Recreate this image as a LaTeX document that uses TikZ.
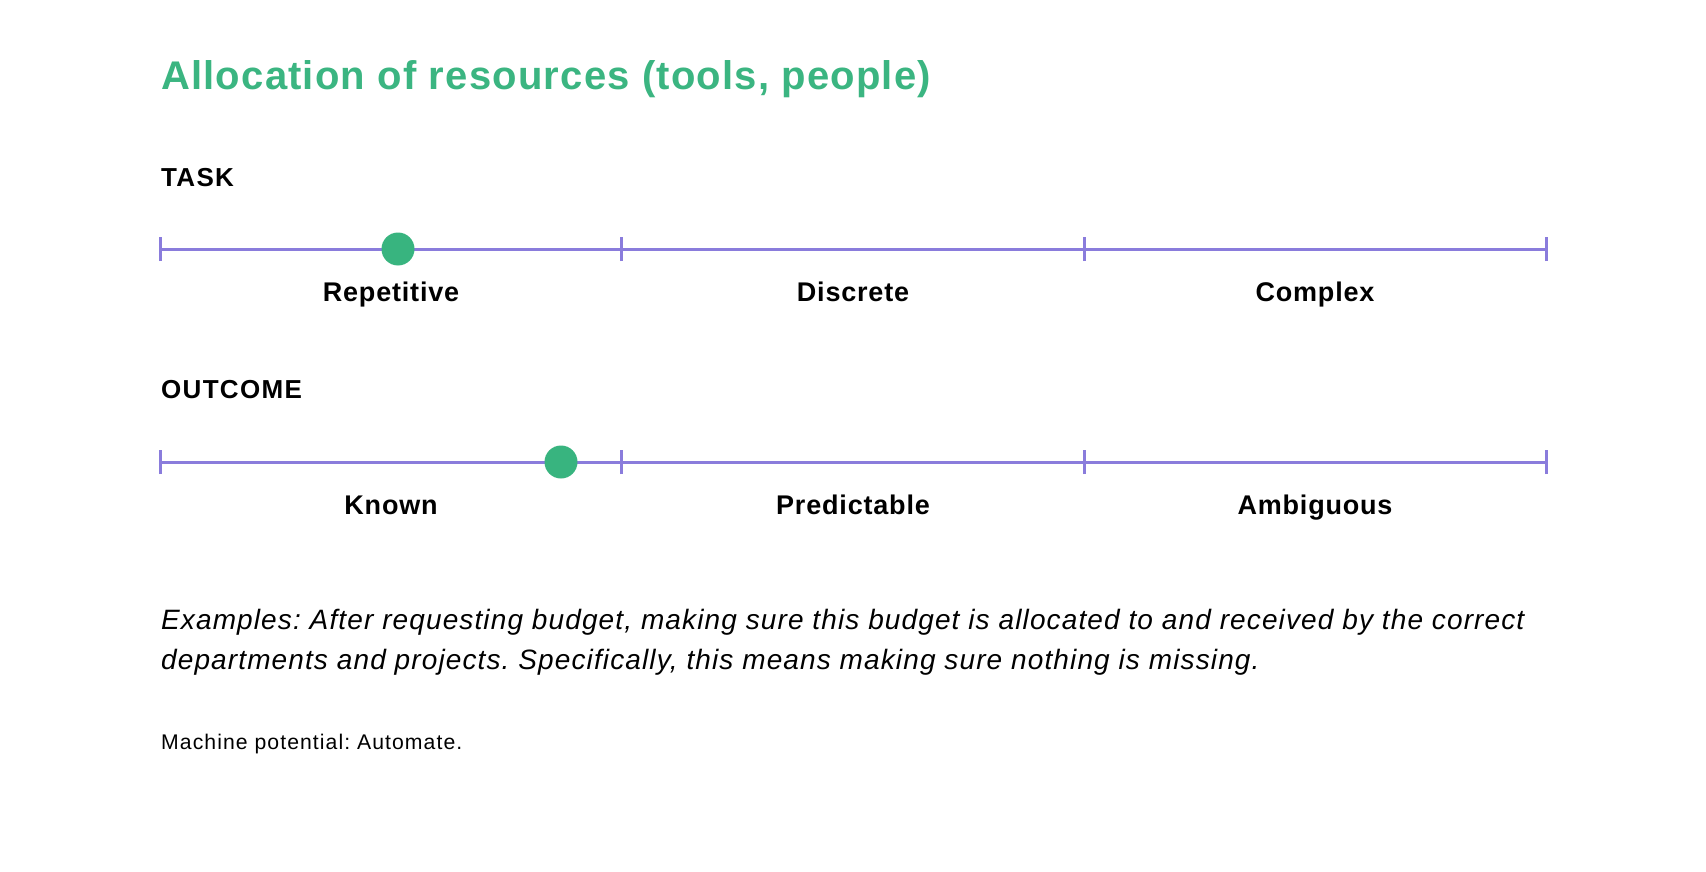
\documentclass[tikz,border=0pt]{standalone}
\usepackage{fontspec}
\setmainfont{Liberation Sans}
\newfontfamily\titlefont[LetterSpace=3]{Liberation Sans}
\newfontfamily\headfont[LetterSpace=5]{Liberation Sans}
\newfontfamily\labelfont[LetterSpace=3]{Liberation Sans}
\newfontfamily\bodyfont[LetterSpace=4]{Liberation Sans}
\newfontfamily\notefont[LetterSpace=5]{Liberation Sans}
\definecolor{titlegreen}{HTML}{3BB581}
\definecolor{dotgreen}{HTML}{38B47F}
\definecolor{scalepurple}{HTML}{8A7CDC}
\frenchspacing
\begin{document}
\frenchspacing
\begin{tikzpicture}[x=1pt,y=-1pt,
  titletext/.style={anchor=base west, inner sep=0pt, font=\titlefont\fontsize{40}{48}\selectfont\bfseries, text=titlegreen},
  heading/.style={anchor=base west, inner sep=0pt, font=\headfont\fontsize{26}{30}\selectfont\bfseries},
  catlabel/.style={anchor=base, inner sep=0pt, font=\labelfont\fontsize{27}{32}\selectfont\bfseries},
  bodytext/.style={anchor=base west, inner sep=0pt, align=left, font=\bodyfont\fontsize{28}{40}\selectfont\itshape},
  notetext/.style={anchor=base west, inner sep=0pt, font=\notefont\fontsize{21.2}{24}\selectfont},
  axisline/.style={draw=scalepurple, line width=3pt},
  tickmark/.style={draw=scalepurple, line width=3pt},
  marker/.style={circle, fill=dotgreen, minimum size=33pt, inner sep=0pt}]
\useasboundingbox[fill=white] (0,0) rectangle (1706,872);

\node[titletext] (title) at (161,90) {Allocation of resources (tools, people)};

% TASK scale
\node[heading] (task) at (161,186) {TASK};
\coordinate (t0) at (160,249);
\coordinate (t1) at (621,249);
\coordinate (t2) at (1084,249);
\coordinate (t3) at (1546,249);
\draw[axisline] (t0) -- (t1) -- (t2) -- (t3);
\foreach \c in {t0,t1,t2,t3}{
  \draw[tickmark] ([yshift=-12pt]\c) -- ([yshift=12pt]\c);
}
\node[marker] (taskdot) at (398,249) {};
\node[catlabel] (rep) at (391,301) {Repetitive};
\node[catlabel] (disc) at (853,301) {Discrete};
\node[catlabel] (comp) at (1315,301) {Complex};

% OUTCOME scale
\node[heading] (outcome) at (161,398) {OUTCOME};
\coordinate (o0) at (160,462);
\coordinate (o1) at (621,462);
\coordinate (o2) at (1084,462);
\coordinate (o3) at (1546,462);
\draw[axisline] (o0) -- (o1) -- (o2) -- (o3);
\foreach \c in {o0,o1,o2,o3}{
  \draw[tickmark] ([yshift=-12pt]\c) -- ([yshift=12pt]\c);
}
\node[marker] (outdot) at (561,462) {};
\node[catlabel] (known) at (391,514) {Known};
\node[catlabel] (pred) at (853,514) {Predictable};
\node[catlabel] (amb) at (1315,514) {Ambiguous};

\node[bodytext] (examples) at (161,669) {Examples: After requesting budget, making sure this budget is allocated to and received by the correct\\departments and projects. Specifically, this means making sure nothing is missing.};
\node[notetext] (machine) at (161,749) {Machine potential: Automate.};
\end{tikzpicture}
\end{document}
